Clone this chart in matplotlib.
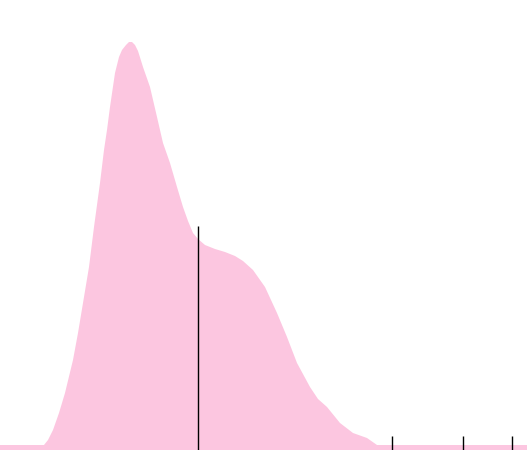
import matplotlib
matplotlib.use("Agg")
import matplotlib.pyplot as plt

# density curve (x value, density height)
x_vals = [0, 44, 48, 53, 59, 65, 73, 78, 83, 89, 94, 100, 104, 107, 110, 115, 119, 122,
          126, 129, 132, 135, 138, 143, 150, 157, 163, 170, 177, 183, 188,
          193, 198, 205, 215, 225, 235, 243, 253, 265, 277, 287, 297, 310, 318,
          327, 340, 353, 367, 377, 527]
density = [0, 0, 5, 15, 32, 52, 85, 112, 142, 178, 218, 262, 295, 315, 338, 372, 388, 395,
           400, 403, 403, 400, 394, 378, 358, 328, 302, 282, 258, 238, 224,
           212, 206, 200, 196, 193, 189, 184, 175, 158, 132, 108, 82, 58, 46,
           38, 22, 12, 7, 0, 0]
median_value = 198
median_height = 219
rug_values = [392, 463, 512]

fig = plt.figure(figsize=(5.27, 4.5), dpi=100)
ax = fig.add_axes([0, 0, 1, 1])
ax.fill_between(x_vals, -10, density, color="#FCC6E0", linewidth=0)
ax.vlines(median_value, -10, median_height, color="black", linewidth=1)
ax.vlines(rug_values, -10, 9, color="black", linewidth=1)
ax.set_xlim(0, 527)
ax.set_ylim(-5, 445)
ax.axis("off")
fig.savefig("out.png", dpi=100)
